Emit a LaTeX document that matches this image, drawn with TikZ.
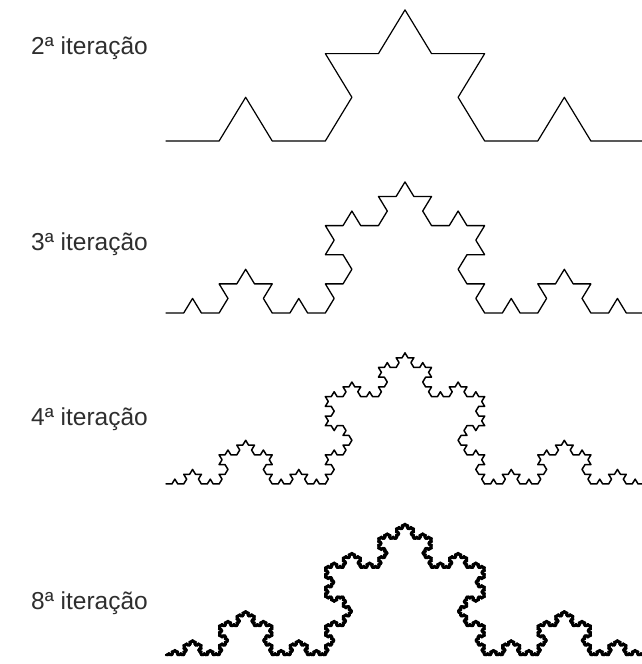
\documentclass[tikz,border=0pt]{standalone}
\usepackage{fontspec}
\setmainfont{Liberation Sans}
\usepackage{tikz}

% passo a passo da curva de Koch
\newdimen\kochx
\newdimen\kochy
\newdimen\kochstep
\newcount\kochdir
\newcommand{\kochturn}[1]{%
  \advance\kochdir by #1\relax
  \ifnum\kochdir<0 \advance\kochdir by 6 \fi
  \ifnum\kochdir>5 \advance\kochdir by -6 \fi}
\newcommand{\kochfwd}{%
  \ifcase\kochdir
    \advance\kochx by \kochstep
  \or \advance\kochx by 0.5\kochstep \advance\kochy by 0.866025\kochstep
  \or \advance\kochx by -0.5\kochstep \advance\kochy by 0.866025\kochstep
  \or \advance\kochx by -\kochstep
  \or \advance\kochx by -0.5\kochstep \advance\kochy by -0.866025\kochstep
  \or \advance\kochx by 0.5\kochstep \advance\kochy by -0.866025\kochstep
  \fi
  \pgfpathlineto{\pgfqpoint{\kochx}{\kochy}}}
\newcommand{\kochflush}{%
  \pgfusepath{stroke}\pgfpathmoveto{\pgfqpoint{\kochx}{\kochy}}}
\newcommand{\kochgen}[1]{%
  \ifnum#1=0 \kochfwd\else
    \expandafter\kochsub\expandafter{\the\numexpr#1-1\relax}%
    \ifnum#1=3 \kochflush\fi
  \fi}
\newcommand{\kochsub}[1]{%
  \kochgen{#1}\kochturn{1}\kochgen{#1}\kochturn{-2}\kochgen{#1}\kochturn{1}\kochgen{#1}}
\newcommand{\kochcurve}[1]{%
  \pgfmathsetlength{\kochstep}{478/(3^#1)}%
  \kochx=0pt \kochy=0pt \kochdir=0
  \pgfpathmoveto{\pgfqpoint{0pt}{0pt}}%
  \kochgen{#1}%
  \pgfusepath{stroke}}

\begin{document}
\begin{tikzpicture}[x=1pt,y=1pt,
    rotulo/.style={anchor=base west, inner sep=0pt, text=black!82,
      font=\fontsize{24.5}{29}\selectfont},
    koch/.style={line join=round, line cap=round}]
  \useasboundingbox (0,0) rectangle (642,664);
  % rotulos
  \node[rotulo] (it2) at (31,609) {2ª iteração};
  \node[rotulo] (it3) at (31,413) {3ª iteração};
  \node[rotulo] (it4) at (31,238) {4ª iteração};
  \node[rotulo] (it8) at (31,54) {8ª iteração};
  % curvas
  \begin{scope}[koch, shift={(166,523)}, yscale=0.95, line width=1.2pt]
    \kochcurve{2}
  \end{scope}
  \begin{scope}[koch, shift={(166,351)}, yscale=0.95, line width=1.3pt]
    \kochcurve{3}
  \end{scope}
  \begin{scope}[koch, shift={(166,180)}, yscale=0.95, line width=1.5pt]
    \kochcurve{4}
  \end{scope}
  \begin{scope}[koch, shift={(166,9)}, yscale=0.95, line width=2.5pt]
    \kochcurve{8}
  \end{scope}
\end{tikzpicture}
\end{document}
